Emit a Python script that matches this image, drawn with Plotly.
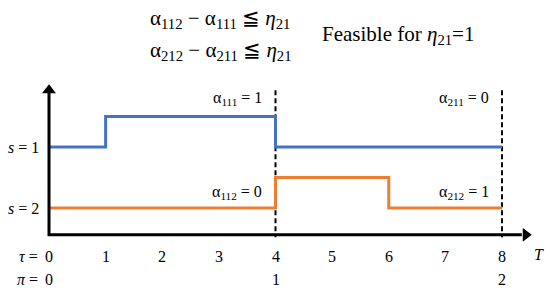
import plotly.graph_objects as go

# step data (s = 1 drawn at level 1, s = 2 at level 0, raised level +0.5)
blue_x = [0, 1, 4, 8]
blue_y = [1, 1.5, 1, 1]
orange_x = [0, 4, 6, 8]
orange_y = [0, 0.5, 0, 0]

tau_ticks = [0, 1, 2, 3, 4, 5, 6, 7, 8]
pi_pos = [0, 4, 8]
pi_labels = ['0', '1', '2']
s_levels = [1, 0]
s_labels = ['<i>s</i> = 1', '<i>s</i> = 2']
boundary_x = [4, 8]

alpha_labels = [
    (3.8, 1.80, 'α<sub>111</sub> = 1'),
    (3.8, 0.26, 'α<sub>112</sub> = 0'),
    (7.8, 1.80, 'α<sub>211</sub> = 0'),
    (7.8, 0.26, 'α<sub>212</sub> = 1'),
]

FONT = 'Liberation Serif'
BLUE = '#4472C4'
ORANGE = '#ED7D31'
axis_y = -0.44

fig = go.Figure()

# dashed boundaries
for bx in boundary_x:
    fig.add_trace(go.Scatter(x=[bx, bx], y=[1.93, -0.48], mode='lines',
                             line=dict(color='black', width=2, dash='5px,3px'),
                             hoverinfo='skip'))

fig.add_trace(go.Scatter(x=blue_x, y=blue_y, mode='lines', line_shape='hv',
                         line=dict(color=BLUE, width=3)))
fig.add_trace(go.Scatter(x=orange_x, y=orange_y, mode='lines', line_shape='hv',
                         line=dict(color=ORANGE, width=3)))

# axes + arrow heads
fig.add_trace(go.Scatter(x=[0, 0, 8.35], y=[1.9, axis_y, axis_y], mode='lines',
                         line=dict(color='black', width=3), hoverinfo='skip'))
fig.add_trace(go.Scatter(x=[0], y=[1.93], mode='markers', hoverinfo='skip',
                         marker=dict(symbol='triangle-up', size=12, color='black')))
fig.add_trace(go.Scatter(x=[8.42], y=[axis_y], mode='markers', hoverinfo='skip',
                         marker=dict(symbol='triangle-right', size=12, color='black')))

tick_font = dict(family=FONT, size=16, color='black')

for t in tau_ticks:
    fig.add_annotation(x=t, y=-0.80, text=str(t), showarrow=False, font=tick_font)
for p, lab in zip(pi_pos, pi_labels):
    fig.add_annotation(x=p, y=-1.18, text=lab, showarrow=False, font=tick_font)
fig.add_annotation(x=-0.16, y=-0.80, text='<i>τ</i> =', showarrow=False, xanchor='right', font=tick_font)
fig.add_annotation(x=-0.16, y=-1.18, text='<i>π</i> =', showarrow=False, xanchor='right', font=tick_font)
fig.add_annotation(x=8.65, y=-0.76, text='<i>T</i>', showarrow=False, font=tick_font)

for lv, lab in zip(s_levels, s_labels):
    fig.add_annotation(x=-0.14, y=lv, text=lab, showarrow=False, xanchor='right', font=tick_font)

for ax_, ay_, txt in alpha_labels:
    fig.add_annotation(x=ax_, y=ay_, text=txt, showarrow=False, xanchor='right',
                       font=dict(family=FONT, size=16, color='black'))

top_font = dict(family=FONT, size=21, color='black')
fig.add_annotation(x=148 / 550, y=1 - 19 / 291, xref='paper', yref='paper',
                   xanchor='left', yanchor='middle',
                   text='α<sub>112</sub> − α<sub>111</sub> ≦ <i>η</i><sub>21</sub>',
                   showarrow=False, font=top_font)
fig.add_annotation(x=148 / 550, y=1 - 51 / 291, xref='paper', yref='paper',
                   xanchor='left', yanchor='middle',
                   text='α<sub>212</sub> − α<sub>211</sub> ≦ <i>η</i><sub>21</sub>',
                   showarrow=False, font=top_font)
fig.add_annotation(x=320 / 550, y=1 - 35 / 291, xref='paper', yref='paper',
                   xanchor='left', yanchor='middle',
                   text='Feasible for <i>η</i><sub>21</sub>=1',
                   showarrow=False, font=top_font)

fig.update_layout(
    width=550, height=291,
    margin=dict(l=0, r=0, t=0, b=0),
    plot_bgcolor='white', paper_bgcolor='white',
    xaxis=dict(range=[-49 / 56.625, 501 / 56.625], visible=False, fixedrange=True),
    yaxis=dict(range=[-83 / 61, 1 + 147 / 61], visible=False, fixedrange=True),
    showlegend=False,
)

fig.write_html('out.html', config={'displayModeBar': False},
               post_script="document.body.style.margin='0';document.body.style.overflow='hidden';")
